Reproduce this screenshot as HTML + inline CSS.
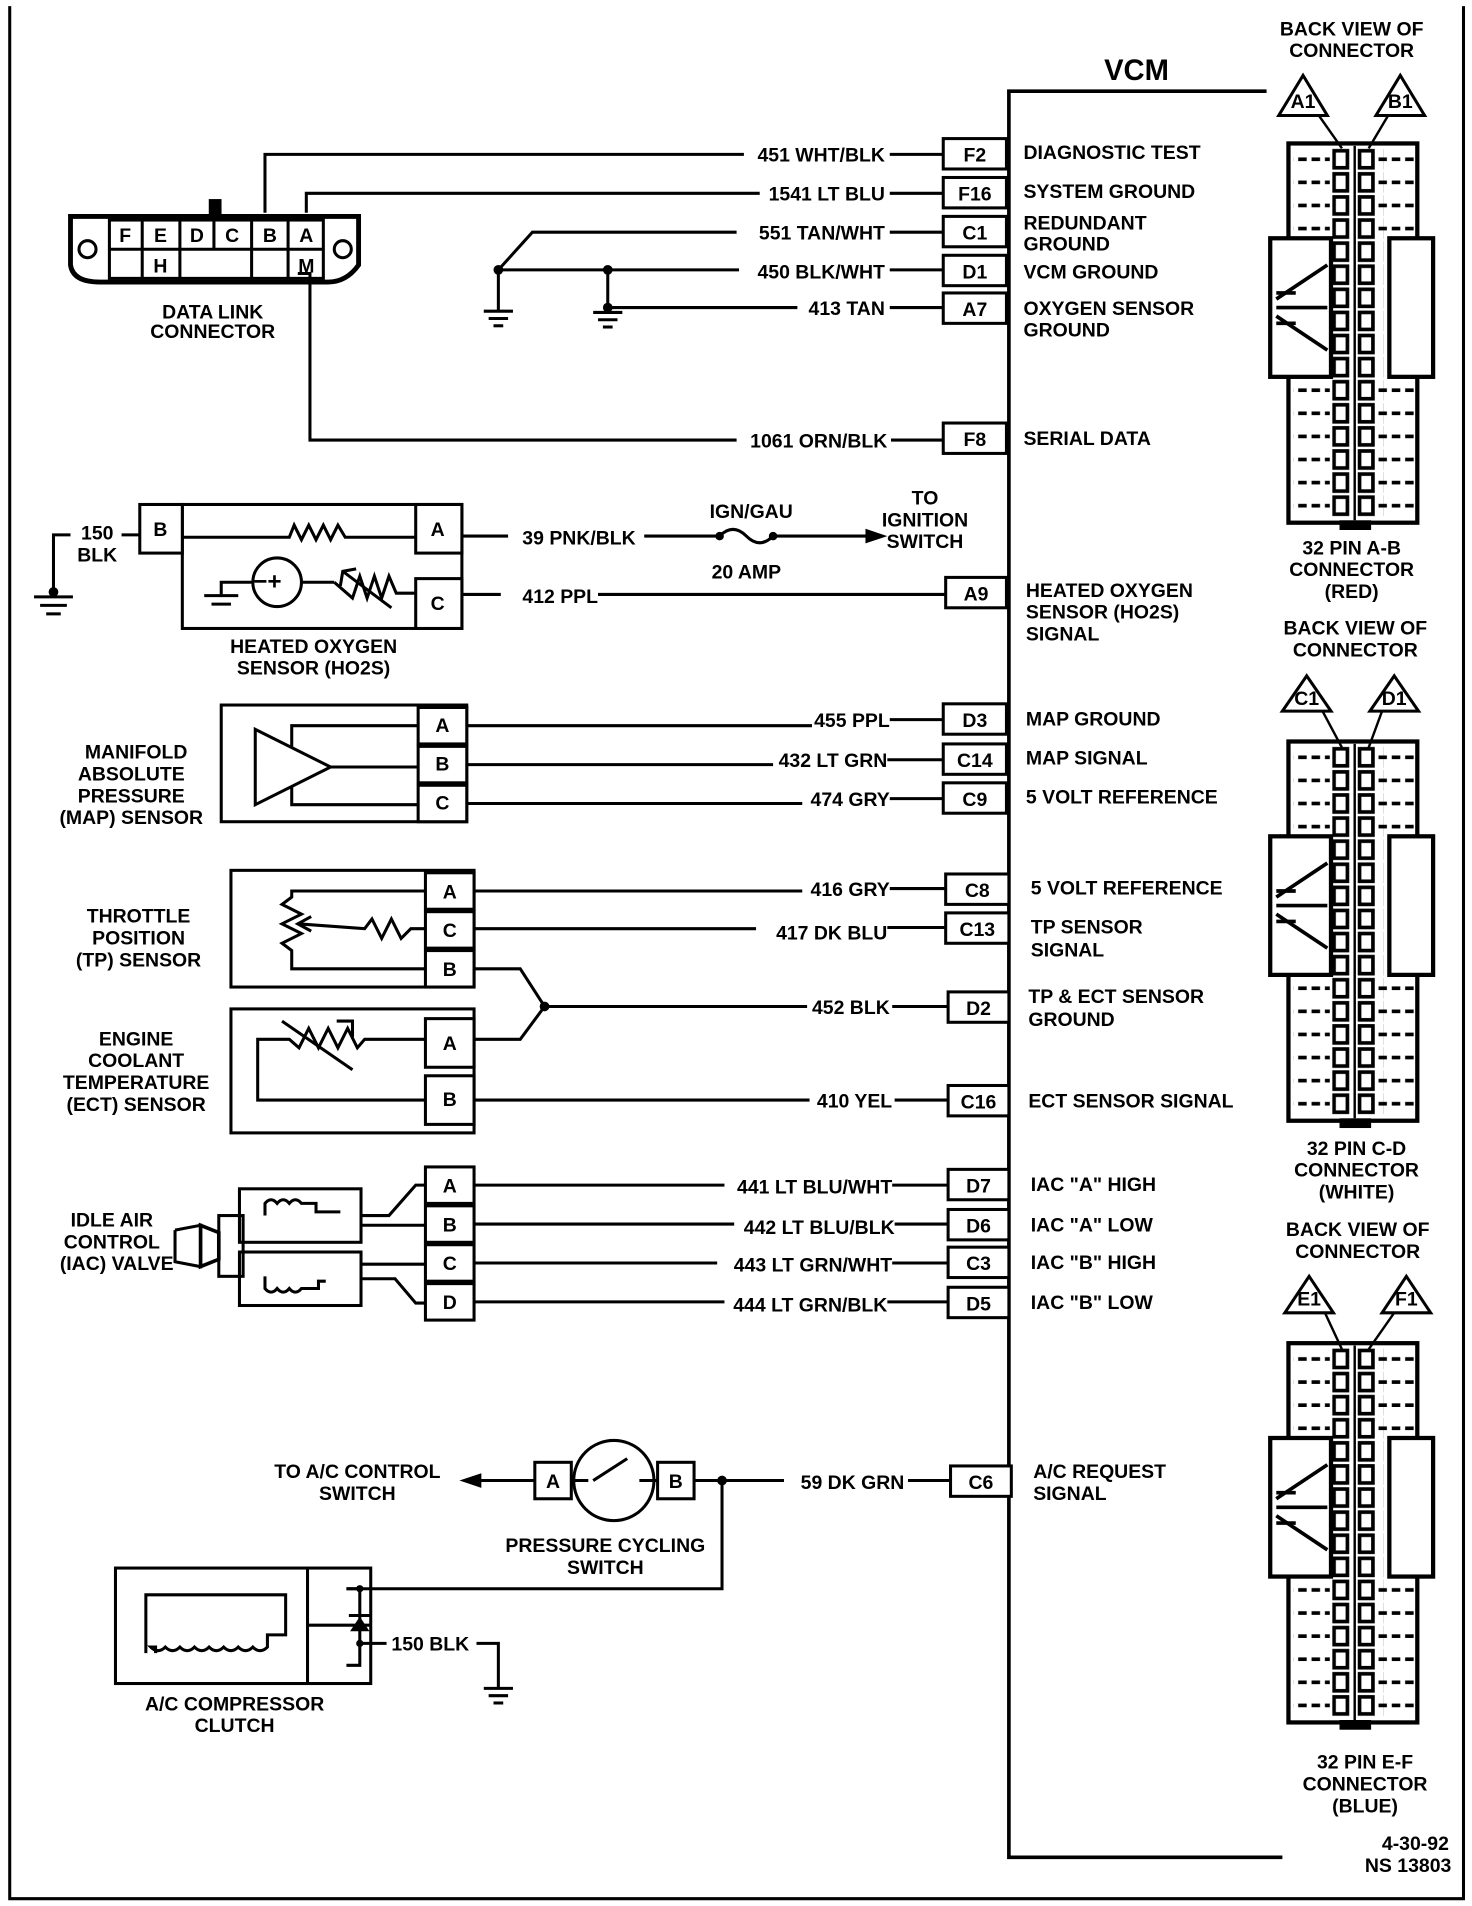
<!DOCTYPE html>
<html><head><meta charset="utf-8"><style>
html,body{margin:0;padding:0;background:#fff}
svg{display:block}
text{font-family:"Liberation Sans",sans-serif;font-weight:bold;font-size:16px;fill:#000}
.r{text-anchor:end}.m{text-anchor:middle}
</style></head><body>
<svg width="1472" height="1906" viewBox="0 0 1211 1568" xmlns="http://www.w3.org/2000/svg">
<g fill="none" stroke="#000" stroke-width="2.5">
<polyline points="8,5 8,1562 1204,1562 1204,5"/>
<polyline points="1042,75 830,75 830,1528 1055,1528" stroke-width="3"/>
</g>
<text x="935" y="66" class="m" style="font-size:24px">VCM</text>

<g fill="#fff" stroke="#000" stroke-width="2.5">
<rect x="776" y="114" width="52" height="25"/>
<rect x="776" y="146" width="52" height="25"/>
<rect x="776" y="178" width="52" height="25"/>
<rect x="776" y="210" width="52" height="25"/>
<rect x="776" y="241" width="52" height="25"/>
<rect x="776" y="348" width="52" height="25"/>
<rect x="778" y="475" width="50" height="25"/>
<rect x="776" y="579" width="52" height="25"/>
<rect x="776" y="612" width="52" height="25"/>
<rect x="776" y="644" width="52" height="25"/>
<rect x="778" y="719" width="52" height="25"/>
<rect x="778" y="751" width="52" height="25"/>
<rect x="780" y="816" width="50" height="25"/>
<rect x="780" y="893" width="50" height="25"/>
<rect x="780" y="962" width="50" height="25"/>
<rect x="780" y="995" width="50" height="25"/>
<rect x="780" y="1026" width="50" height="25"/>
<rect x="780" y="1059" width="50" height="25"/>
<rect x="782" y="1206" width="50" height="25"/>
</g>
<g>
<text x="802" y="133" class="m">F2</text><text x="802" y="165" class="m">F16</text>
<text x="802" y="197" class="m">C1</text><text x="802" y="229" class="m">D1</text>
<text x="802" y="260" class="m">A7</text><text x="802" y="367" class="m">F8</text>
<text x="803" y="494" class="m">A9</text><text x="802" y="598" class="m">D3</text>
<text x="802" y="631" class="m">C14</text><text x="802" y="663" class="m">C9</text>
<text x="804" y="738" class="m">C8</text><text x="804" y="770" class="m">C13</text>
<text x="805" y="835" class="m">D2</text><text x="805" y="912" class="m">C16</text>
<text x="805" y="981" class="m">D7</text><text x="805" y="1014" class="m">D6</text>
<text x="805" y="1045" class="m">C3</text><text x="805" y="1078" class="m">D5</text>
<text x="807" y="1225" class="m">C6</text>
</g>
<text x="842" y="131">DIAGNOSTIC TEST</text>
<text x="842" y="163">SYSTEM GROUND</text>
<text x="842" y="189">REDUNDANT</text><text x="842" y="206">GROUND</text>
<text x="842" y="229">VCM GROUND</text>
<text x="842" y="259">OXYGEN SENSOR</text><text x="842" y="277">GROUND</text>
<text x="842" y="366">SERIAL DATA</text>
<text x="844" y="491">HEATED OXYGEN</text><text x="844" y="509">SENSOR (HO2S)</text><text x="844" y="527">SIGNAL</text>
<text x="844" y="597">MAP GROUND</text>
<text x="844" y="629">MAP SIGNAL</text>
<text x="844" y="661">5 VOLT REFERENCE</text>
<text x="848" y="736">5 VOLT REFERENCE</text>
<text x="848" y="768">TP SENSOR</text><text x="848" y="787">SIGNAL</text>
<text x="846" y="825">TP &amp; ECT SENSOR</text><text x="846" y="844">GROUND</text>
<text x="846" y="911">ECT SENSOR SIGNAL</text>
<text x="848" y="980">IAC "A" HIGH</text>
<text x="848" y="1013">IAC "A" LOW</text>
<text x="848" y="1044">IAC "B" HIGH</text>
<text x="848" y="1077">IAC "B" LOW</text>
<text x="850" y="1216">A/C REQUEST</text><text x="850" y="1234">SIGNAL</text>

<g>
<text x="728" y="133" class="r">451 WHT/BLK</text>
<text x="728" y="165" class="r">1541 LT BLU</text>
<text x="728" y="197" class="r">551 TAN/WHT</text>
<text x="728" y="229" class="r">450 BLK/WHT</text>
<text x="728" y="259" class="r">413 TAN</text>
<text x="730" y="368" class="r">1061 ORN/BLK</text>
<text x="523" y="448" class="r">39 PNK/BLK</text>
<text x="492" y="496" class="r">412 PPL</text>
<text x="732" y="598" class="r">455 PPL</text>
<text x="730" y="631" class="r">432 LT GRN</text>
<text x="732" y="663" class="r">474 GRY</text>
<text x="732" y="737" class="r">416 GRY</text>
<text x="730" y="773" class="r">417 DK BLU</text>
<text x="732" y="834" class="r">452 BLK</text>
<text x="734" y="911" class="r">410 YEL</text>
<text x="734" y="982" class="r">441 LT BLU/WHT</text>
<text x="736" y="1015" class="r">442 LT BLU/BLK</text>
<text x="734" y="1046" class="r">443 LT GRN/WHT</text>
<text x="730" y="1079" class="r">444 LT GRN/BLK</text>
<text x="744" y="1225" class="r">59 DK GRN</text>
</g>

<g fill="none" stroke="#000" stroke-width="2.5">
<polyline points="218,175 218,127 612,127"/><line x1="732" y1="127" x2="776" y2="127"/>
<polyline points="252,175 252,159 625,159"/><line x1="732" y1="159" x2="776" y2="159"/>
<polyline points="410,222 438,191 606,191"/><line x1="732" y1="191" x2="776" y2="191"/>
<line x1="410" y1="222" x2="608" y2="222"/><line x1="732" y1="222" x2="776" y2="222"/>
<line x1="500" y1="222" x2="500" y2="253"/>
<line x1="500" y1="253" x2="656" y2="253"/><line x1="732" y1="253" x2="776" y2="253"/>
<line x1="410" y1="222" x2="410" y2="255"/><line x1="398" y1="256" x2="422" y2="256"/><line x1="402" y1="262" x2="418" y2="262"/><line x1="406" y1="268" x2="414" y2="268"/>
<line x1="500" y1="253" x2="500" y2="256"/><line x1="488" y1="257" x2="512" y2="257"/><line x1="492" y1="263" x2="508" y2="263"/><line x1="496" y1="269" x2="504" y2="269"/>
<polyline points="245,225 255,225 255,362 606,362"/><line x1="733" y1="362" x2="776" y2="362"/>
</g>
<circle cx="410" cy="222" r="4"/><circle cx="500" cy="222" r="4"/><circle cx="500" cy="253" r="4"/>

<g fill="none" stroke="#000" stroke-width="2.5">
<path d="M58,178 L295,178 L295,218 Q285,232 270,232 L82,232 Q60,232 58,218 Z" stroke-width="4"/>
<circle cx="72" cy="205" r="7"/><circle cx="282" cy="205" r="7"/>
<rect x="90" y="181" width="176" height="48"/>
<line x1="90" y1="205" x2="266" y2="205"/>
<line x1="117" y1="181" x2="117" y2="229"/><line x1="148" y1="181" x2="148" y2="229"/><line x1="176" y1="181" x2="176" y2="205"/><line x1="207" y1="181" x2="207" y2="229"/><line x1="237" y1="181" x2="237" y2="229"/>
<rect x="173" y="165" width="8" height="13" fill="#000"/>
</g>
<text x="103" y="199" class="m">F</text><text x="132" y="199" class="m">E</text><text x="162" y="199" class="m">D</text><text x="191" y="199" class="m">C</text><text x="222" y="199" class="m">B</text><text x="252" y="199" class="m">A</text>
<text x="132" y="224" class="m">H</text><text x="252" y="224" class="m">M</text>
<text x="175" y="262" class="m">DATA LINK</text><text x="175" y="278" class="m">CONNECTOR</text>

<!-- HO2S -->
<g fill="none" stroke="#000" stroke-width="2.5">
<rect x="150" y="415" width="230" height="102"/>
<rect x="115" y="415" width="35" height="40" fill="#fff"/>
<rect x="342" y="415" width="38" height="40" fill="#fff"/>
<rect x="342" y="476" width="38" height="41" fill="#fff"/>
<polyline points="150,442 238,442 242,432 248,444 254,432 260,444 266,432 272,444 278,432 284,442 342,442"/>
<circle cx="228" cy="479" r="20"/>
<line x1="248" y1="479" x2="275" y2="479"/><polyline points="275,479 290,492 296,474 302,492 308,474 314,492 320,474 326,488 342,488"/>
<line x1="282" y1="470" x2="322" y2="500"/><polyline points="280,482 282,470 293,468"/>
<polyline points="208,479 182,479 182,489"/><line x1="168" y1="490" x2="196" y2="490"/><line x1="174" y1="497" x2="190" y2="497"/>
<line x1="380" y1="441" x2="418" y2="441"/><line x1="530" y1="441" x2="592" y2="441"/>
<path d="M592,441 Q603,430 614,441 Q625,452 636,441"/>
<line x1="636" y1="441" x2="715" y2="441"/>
<line x1="380" y1="489" x2="412" y2="489"/><line x1="492" y1="489" x2="778" y2="489"/>
<line x1="100" y1="440" x2="115" y2="440"/>
<polyline points="58,440 44,440 44,490"/>
<line x1="28" y1="491" x2="60" y2="491"/><line x1="33" y1="498" x2="55" y2="498"/><line x1="38" y1="505" x2="50" y2="505"/>
</g>
<polygon points="730,441 712,435 712,447"/>
<circle cx="592" cy="441" r="3.5"/><circle cx="636" cy="441" r="3.5"/><circle cx="44" cy="487" r="4"/>
<text x="132" y="441" class="m">B</text><text x="360" y="441" class="m">A</text><text x="360" y="502" class="m">C</text>
<text x="220" y="485" class="m" style="font-size:20px">−+</text>
<text x="80" y="444" class="m">150</text><text x="80" y="462" class="m">BLK</text>
<text x="618" y="426" class="m">IGN/GAU</text><text x="614" y="476" class="m">20 AMP</text>
<text x="761" y="415" class="m">TO</text><text x="761" y="433" class="m">IGNITION</text><text x="761" y="451" class="m">SWITCH</text>
<text x="258" y="537" class="m">HEATED OXYGEN</text><text x="258" y="555" class="m">SENSOR (HO2S)</text>

<g fill="none" stroke="#000" stroke-width="2.5">
<rect x="182" y="580" width="202" height="96"/>
<rect x="344" y="582" width="40" height="30" fill="#fff"/>
<rect x="344" y="614" width="40" height="30" fill="#fff"/>
<rect x="344" y="646" width="40" height="30" fill="#fff"/>
<polygon points="210,600 210,662 272,631"/>
<polyline points="240,615 240,597 344,597"/><line x1="272" y1="631" x2="344" y2="631"/>
<polyline points="240,647 240,662 344,662"/>
<line x1="384" y1="597" x2="668" y2="597"/><line x1="732" y1="592" x2="776" y2="592"/>
<line x1="384" y1="629" x2="636" y2="629"/><line x1="730" y1="625" x2="776" y2="625"/>
<line x1="384" y1="661" x2="660" y2="661"/><line x1="732" y1="657" x2="776" y2="657"/>
<rect x="190" y="716" width="200" height="96"/>
<rect x="350" y="718" width="40" height="30" fill="#fff"/>
<rect x="350" y="750" width="40" height="30" fill="#fff"/>
<rect x="350" y="782" width="40" height="30" fill="#fff"/>
<polyline points="350,733 240,733 240,738 232,744 248,752 232,760 248,768 232,776 240,782 240,797 350,797"/>
<polyline points="245,760 300,764 306,756 314,772 322,756 330,772 338,764 350,764"/>
<polyline points="256,754 245,760 256,766"/>
<line x1="390" y1="733" x2="660" y2="733"/><line x1="732" y1="731" x2="778" y2="731"/>
<line x1="390" y1="764" x2="622" y2="764"/><line x1="730" y1="763" x2="778" y2="763"/>
<polyline points="390,797 428,797 448,828 428,855 390,855"/>
<line x1="448" y1="828" x2="664" y2="828"/><line x1="734" y1="828" x2="780" y2="828"/>
<rect x="190" y="830" width="200" height="102"/>
<rect x="350" y="838" width="40" height="40" fill="#fff"/>
<rect x="350" y="885" width="40" height="40" fill="#fff"/>
<polyline points="350,855 300,855 294,862 286,846 278,862 270,846 262,862 254,846 246,862 238,855 212,855 212,905 350,905"/>
<line x1="232" y1="840" x2="290" y2="880"/><polyline points="277,840 290,840 290,853"/>
<line x1="390" y1="905" x2="666" y2="905"/><line x1="736" y1="905" x2="780" y2="905"/>
<rect x="350" y="960" width="40" height="30" fill="#fff"/>
<rect x="350" y="992" width="40" height="30" fill="#fff"/>
<rect x="350" y="1024" width="40" height="30" fill="#fff"/>
<rect x="350" y="1056" width="40" height="30" fill="#fff"/>
<rect x="197" y="978" width="100" height="44"/>
<rect x="197" y="1030" width="100" height="44"/>
<rect x="180" y="1000" width="20" height="50"/>
<polygon points="165,1008 180,1014 180,1036 165,1042" stroke-width="3"/>
<polyline points="144,1012 165,1008 165,1042 144,1038 144,1012"/>
<path d="M218,1000 L218,990 q5,-6 10,0 q5,-6 10,0 q5,-6 10,0 L260,990 L260,997 L280,997"/>
<path d="M218,1050 L218,1060 q5,6 10,0 q5,6 10,0 q5,6 10,0 L262,1060 L262,1054 L268,1054"/>
<polyline points="297,1000 320,1000 342,975 350,975"/>
<polyline points="297,1008 350,1008"/>
<polyline points="297,1040 350,1040"/>
<polyline points="297,1052 325,1052 342,1072 350,1072"/>
<line x1="390" y1="975" x2="596" y2="975"/><line x1="734" y1="975" x2="780" y2="975"/>
<line x1="390" y1="1007" x2="604" y2="1007"/><line x1="736" y1="1007" x2="780" y2="1007"/>
<line x1="390" y1="1039" x2="590" y2="1039"/><line x1="734" y1="1039" x2="780" y2="1039"/>
<line x1="390" y1="1071" x2="596" y2="1071"/><line x1="730" y1="1071" x2="780" y2="1071"/>
<rect x="440" y="1203" width="30" height="30" fill="#fff"/>
<rect x="541" y="1203" width="30" height="30" fill="#fff"/>
<circle cx="505" cy="1218" r="33"/>
<line x1="470" y1="1218" x2="484" y2="1218"/><line x1="526" y1="1218" x2="541" y2="1218"/>
<line x1="488" y1="1218" x2="516" y2="1200"/>
<line x1="390" y1="1218" x2="440" y2="1218"/>
<line x1="571" y1="1218" x2="645" y2="1218"/><line x1="747" y1="1218" x2="782" y2="1218"/>
<polyline points="594,1218 594,1307 285,1307"/>
<rect x="95" y="1290" width="210" height="95"/>
<line x1="253" y1="1290" x2="253" y2="1385"/>
<line x1="253" y1="1337" x2="305" y2="1337"/>
<path d="M120,1360 L120,1312 L235,1312 L235,1345 L220,1345 L220,1355 q-6,6 -12,0 q-6,6 -12,0 q-6,6 -12,0 q-6,6 -12,0 q-6,6 -12,0 q-6,6 -12,0 q-6,6 -12,0 q-6,6 -12,0 L128,1355 L128,1360"/>
<polyline points="285,1307 296,1307 296,1370 285,1370"/>
<line x1="287" y1="1329" x2="305" y2="1329"/>
<line x1="296" y1="1352" x2="318" y2="1352"/>
<polyline points="392,1352 410,1352 410,1388"/>
<line x1="398" y1="1389" x2="422" y2="1389"/><line x1="402" y1="1395" x2="418" y2="1395"/><line x1="406" y1="1401" x2="414" y2="1401"/>
</g>
<polygon points="296,1330 288,1342 304,1342"/>
<polygon points="378,1218 396,1212 396,1224"/>
<circle cx="448" cy="828" r="4"/><circle cx="594" cy="1218" r="4"/>
<circle cx="296" cy="1307" r="3"/><circle cx="296" cy="1352" r="3"/>
<text x="364" y="602" class="m">A</text><text x="364" y="634" class="m">B</text><text x="364" y="666" class="m">C</text>
<text x="112" y="624" class="m">MANIFOLD</text><text x="108" y="642" class="m">ABSOLUTE</text><text x="108" y="660" class="m">PRESSURE</text><text x="108" y="678" class="m">(MAP) SENSOR</text>
<text x="370" y="739" class="m">A</text><text x="370" y="771" class="m">C</text><text x="370" y="803" class="m">B</text>
<text x="114" y="759" class="m">THROTTLE</text><text x="114" y="777" class="m">POSITION</text><text x="114" y="795" class="m">(TP) SENSOR</text>
<text x="370" y="864" class="m">A</text><text x="370" y="910" class="m">B</text>
<text x="112" y="860" class="m">ENGINE</text><text x="112" y="878" class="m">COOLANT</text><text x="112" y="896" class="m">TEMPERATURE</text><text x="112" y="914" class="m">(ECT) SENSOR</text>
<text x="370" y="981" class="m">A</text><text x="370" y="1013" class="m">B</text><text x="370" y="1045" class="m">C</text><text x="370" y="1077" class="m">D</text>
<text x="92" y="1009" class="m">IDLE AIR</text><text x="92" y="1027" class="m">CONTROL</text><text x="96" y="1045" class="m">(IAC) VALVE</text>
<text x="455" y="1224" class="m">A</text><text x="556" y="1224" class="m">B</text>
<text x="294" y="1216" class="m">TO A/C CONTROL</text><text x="294" y="1234" class="m">SWITCH</text>
<text x="498" y="1277" class="m">PRESSURE CYCLING</text><text x="498" y="1295" class="m">SWITCH</text>
<text x="193" y="1407" class="m">A/C COMPRESSOR</text><text x="193" y="1425" class="m">CLUTCH</text>
<text x="354" y="1358" class="m">150 BLK</text>

<defs>
<pattern id="pins" x="1096" y="4" width="21" height="19" patternUnits="userSpaceOnUse"><rect x="1.5" y="2" width="11" height="14" fill="none" stroke="#000" stroke-width="3"/></pattern>
<pattern id="dash" x="0" y="4" width="11" height="19" patternUnits="userSpaceOnUse"><line x1="1" y1="9" x2="8" y2="9" stroke="#000" stroke-width="3"/></pattern>
<g id="conn">
<rect x="1060" y="0" width="106" height="312" fill="#fff" stroke="#000" stroke-width="3.5"/>
<rect x="1064" y="2" width="30" height="72" fill="url(#dash)"/>
<rect x="1134" y="2" width="30" height="72" fill="url(#dash)"/>
<rect x="1064" y="192" width="30" height="118" fill="url(#dash)"/>
<rect x="1134" y="192" width="30" height="118" fill="url(#dash)"/>
<rect x="1045" y="78" width="50" height="114" fill="#fff" stroke="#000" stroke-width="3.5"/>
<rect x="1143" y="78" width="36" height="114" fill="#fff" stroke="#000" stroke-width="3.5"/>
<g stroke="#000" stroke-width="3" fill="none">
<line x1="1050" y1="128" x2="1092" y2="100"/><line x1="1050" y1="135" x2="1092" y2="135"/><line x1="1050" y1="142" x2="1092" y2="170"/>
<line x1="1050" y1="123" x2="1066" y2="123"/><line x1="1050" y1="148" x2="1066" y2="148"/>
</g>
<rect x="1096" y="4" width="42" height="304" fill="url(#pins)"/>
<line x1="1114.5" y1="2" x2="1114.5" y2="310" stroke="#000" stroke-width="2"/>
<rect x="1102" y="310" width="26" height="8" fill="#000"/>
</g>
</defs>
<use href="#conn" transform="translate(0,118)"/>
<use href="#conn" transform="translate(0,610)"/>
<use href="#conn" transform="translate(0,1105)"/>
<g fill="#fff" stroke="#000" stroke-width="2.5">
<polygon points="1072,62 1052,95 1092,95"/><polygon points="1152,62 1132,95 1172,95"/>
<polygon points="1075,556 1055,585 1095,585"/><polygon points="1147,556 1127,585 1167,585"/>
<polygon points="1077,1050 1057,1080 1097,1080"/><polygon points="1157,1050 1137,1080 1177,1080"/>
</g>
<g fill="none" stroke="#000" stroke-width="2">
<line x1="1085" y1="95" x2="1104" y2="122"/><line x1="1142" y1="95" x2="1126" y2="122"/>
<line x1="1088" y1="585" x2="1104" y2="615"/><line x1="1137" y1="585" x2="1126" y2="615"/>
<line x1="1090" y1="1080" x2="1104" y2="1110"/><line x1="1147" y1="1080" x2="1126" y2="1110"/>
</g>
<text x="1072" y="89" class="m">A1</text><text x="1152" y="89" class="m">B1</text>
<text x="1075" y="580" class="m">C1</text><text x="1147" y="580" class="m">D1</text>
<text x="1077" y="1074" class="m">E1</text><text x="1157" y="1074" class="m">F1</text>
<text x="1112" y="29" class="m">BACK VIEW OF</text><text x="1112" y="47" class="m">CONNECTOR</text>
<text x="1115" y="522" class="m">BACK VIEW OF</text><text x="1115" y="540" class="m">CONNECTOR</text>
<text x="1117" y="1017" class="m">BACK VIEW OF</text><text x="1117" y="1035" class="m">CONNECTOR</text>
<text x="1112" y="456" class="m">32 PIN A-B</text><text x="1112" y="474" class="m">CONNECTOR</text><text x="1112" y="492" class="m">(RED)</text>
<text x="1116" y="950" class="m">32 PIN C-D</text><text x="1116" y="968" class="m">CONNECTOR</text><text x="1116" y="986" class="m">(WHITE)</text>
<text x="1123" y="1455" class="m">32 PIN E-F</text><text x="1123" y="1473" class="m">CONNECTOR</text><text x="1123" y="1491" class="m">(BLUE)</text>
<text x="1192" y="1522" class="r">4-30-92</text><text x="1194" y="1540" class="r">NS 13803</text>
</svg>
</body></html>
